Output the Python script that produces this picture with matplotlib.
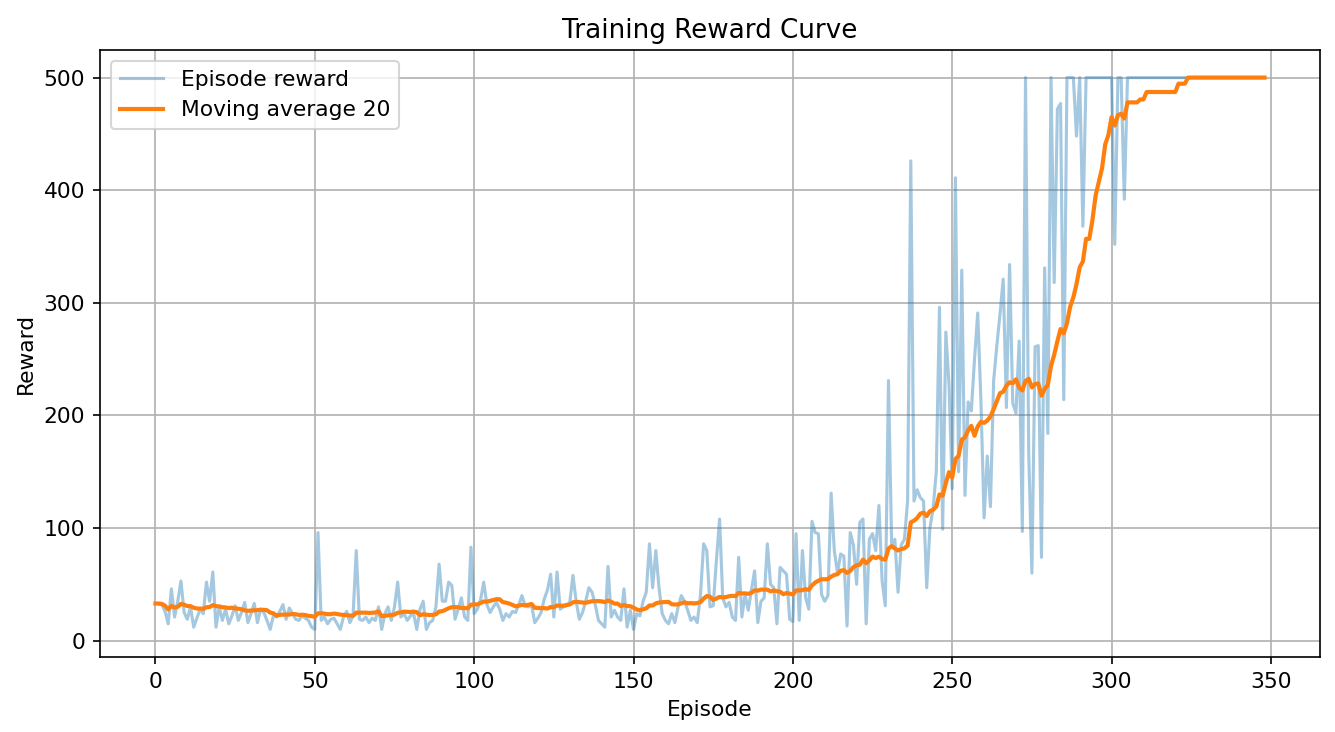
import matplotlib
matplotlib.use("Agg")
import matplotlib.pyplot as plt
import numpy as np
import pandas as pd

# Episode rewards (episodes 0..348)
rewards_0_99 = [
    33, 33, 32, 26, 15, 46, 21, 35, 53, 25,
    19, 30, 12, 20, 28, 24, 52, 35, 61, 12,
    30, 18, 28, 15, 22, 31, 18, 25, 34, 16,
    24, 33, 16, 28, 25, 18, 10, 22, 21, 26,
    32, 19, 29, 24, 19, 18, 22, 20, 18, 12,
    10, 96, 18, 21, 15, 19, 20, 15, 10, 21,
    26, 16, 22, 80, 19, 18, 21, 16, 20, 18,
    30, 10, 24, 30, 18, 30, 52, 21, 24, 18,
    22, 24, 10, 28, 35, 10, 16, 18, 30, 68,
    35, 35, 52, 49, 19, 28, 38, 21, 18, 83,
]
rewards_100_199 = [
    24, 28, 36, 52, 32, 25, 30, 34, 28, 18,
    24, 21, 26, 25, 32, 40, 31, 30, 32, 16,
    20, 25, 37, 45, 59, 21, 61, 28, 30, 31,
    34, 58, 35, 19, 25, 35, 47, 43, 32, 18,
    15, 12, 66, 21, 27, 21, 18, 46, 12, 27,
    10, 24, 22, 35, 43, 86, 47, 80, 47, 24,
    18, 15, 24, 16, 30, 40, 35, 27, 18, 21,
    16, 40, 86, 80, 30, 31, 71, 108, 38, 30,
    34, 21, 18, 74, 21, 41, 27, 45, 62, 16,
    35, 38, 86, 50, 47, 15, 65, 62, 59, 19,
]
rewards_200_299 = [
    17, 95, 18, 80, 38, 28, 106, 96, 95, 41,
    35, 40, 131, 80, 60, 77, 75, 13, 96, 85,
    50, 105, 108, 15, 90, 95, 80, 120, 53, 31,
    231, 85, 90, 43, 85, 90, 124, 426, 124, 134,
    127, 124, 47, 100, 117, 150, 296, 99, 274, 227,
    135, 411, 150, 329, 129, 212, 204, 250, 291, 214,
    109, 164, 119, 231, 262, 290, 321, 207, 334, 211,
    202, 266, 97, 500, 167, 60, 261, 262, 74, 331,
    184, 500, 318, 472, 477, 214, 500, 500, 500, 448,
    500, 368, 500, 500, 500, 500, 500, 500, 500, 500,
]
rewards_300_348 = [
    500, 352, 500, 500, 392, 500, 500, 500, 500, 500,
    500, 500, 500, 500, 500, 500, 500, 500, 500, 500,
    500, 500, 500, 500, 500, 500, 500, 500, 500, 500,
    500, 500, 500, 500, 500, 500, 500, 500, 500, 500,
    500, 500, 500, 500, 500, 500, 500, 500, 500,
]

rewards = rewards_0_99 + rewards_100_199 + rewards_200_299 + rewards_300_348
episodes = np.arange(len(rewards))
window = 20
moving_avg = pd.Series(rewards).rolling(window, min_periods=1).mean()

title = "Training Reward Curve"
xlabel = "Episode"
ylabel = "Reward"
label_raw = "Episode reward"
label_ma = f"Moving average {window}"

plt.rcParams["font.size"] = 10.45

fig = plt.figure(figsize=(1335 / 150, 732 / 150), dpi=150)
ax = fig.add_axes([100 / 1335, 1 - 657 / 732, (1320 - 100) / 1335, (657 - 50) / 732])

ax.plot(episodes, rewards, color="C0", alpha=0.4, linewidth=1.5, label=label_raw)
ax.plot(episodes, moving_avg, color="C1", linewidth=2, label=label_ma)

ax.set_title(title)
ax.set_xlabel(xlabel)
ax.set_ylabel(ylabel)
ax.grid(True)
ax.legend(loc="upper left")

fig.savefig("out.png", dpi=150)
